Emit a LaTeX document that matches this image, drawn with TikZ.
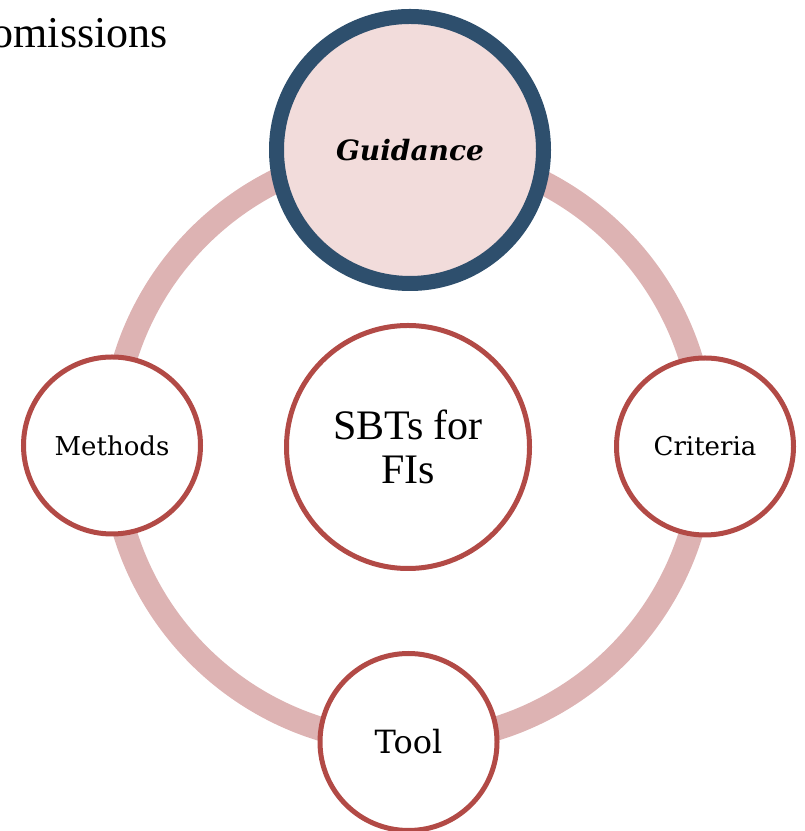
\documentclass[tikz,border=0pt]{standalone}
\usepackage{fontspec}
\setmainfont{Liberation Serif}
\newfontfamily\timesf{Liberation Serif}
\newfontfamily\georgia{DejaVu Serif}
\usepackage{tikz}
\usepackage{color}
\definecolor{ringpink}{HTML}{DDB3B3}
\definecolor{guidfill}{HTML}{F2DCDB}
\definecolor{guidblue}{HTML}{2E4F6D}
\definecolor{circred}{HTML}{B24A46}

\begin{document}
\begin{tikzpicture}[x=0.75pt,y=0.75pt,
  smallcirc/.style={circle,draw=circred,line width=3.75pt,fill=white,minimum size=132.75pt,inner sep=0pt,font=\georgia\fontsize{19.5}{23}\selectfont},
  bigcirc/.style={circle,draw=circred,line width=3.75pt,fill=white,minimum size=182.25pt,inner sep=0pt,align=center,font=\timesf\fontsize{31.5}{32.5}\selectfont},
  guidcirc/.style={circle,draw=guidblue,line width=11.25pt,fill=guidfill,minimum size=200.25pt,inner sep=0pt,font=\georgia\bfseries\itshape\fontsize{21}{25}\selectfont}]

\useasboundingbox (0,0) rectangle (804,831);

\coordinate (hub) at (408,385);
\draw[ringpink,line width=18pt] (hub) circle (296);

\node[bigcirc] (sbt) at (408,384) {SBTs for\\FIs};
\node[guidcirc] (guid) at (410,681) {Guidance};
\node[smallcirc] (meth) at (112,385.5) {Methods};
\node[smallcirc] (crit) at (705,384.5) {Criteria};
\node[smallcirc,font=\georgia\fontsize{24}{28}\selectfont] (tool) at (408.5,89) {Tool};

\node[anchor=base east,inner sep=0pt,font=\timesf\fontsize{33}{38}\selectfont] (omis) at (168,783) {omissions};

\end{tikzpicture}
\end{document}
